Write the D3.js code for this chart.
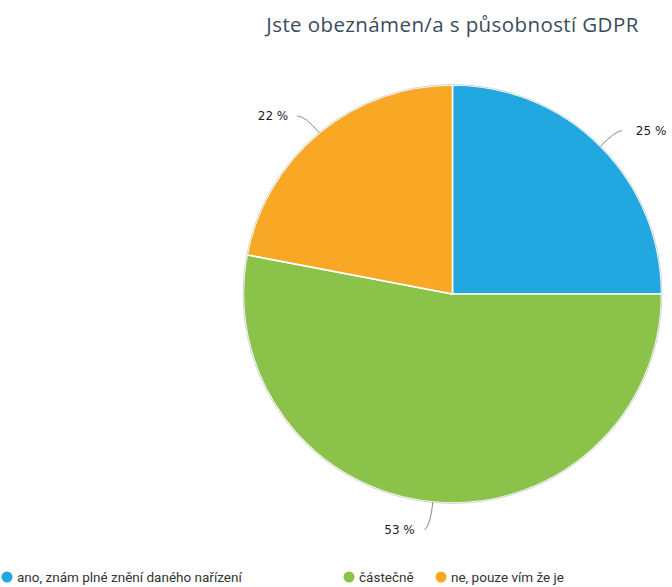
<!DOCTYPE html>
<html>
<head>
<meta charset="utf-8">
<script src="https://cdn.jsdelivr.net/npm/d3@7"></script>
<style>
  html, body { margin: 0; padding: 0; background: #fff; }
  svg { display: block; }
</style>
</head>
<body>
<svg id="chart" width="672" height="587"></svg>
<script>
// Survey answers and their shares (percent)
const categories = ["ano, znám plné znění daného nařízení", "částečně", "ne, pouze vím že je"];
const shares = [25, 53, 22];
const colors = ["#22a8e0", "#8bc34a", "#f9a825"];
const title = "Jste obeznámen/a s působností GDPR";

const svg = d3.select("#chart");
const cx = 452.5, cy = 294, radius = 209;

// Title
svg.append("text")
  .attr("x", cx).attr("y", 32)
  .attr("text-anchor", "middle")
  .attr("font-family", "'Open Sans', sans-serif")
  .attr("font-size", 20.5)
  .attr("letter-spacing", 0.4)
  .attr("fill", "#3b4b5c")
  .text(title);

const data = categories.map((c, i) => ({ name: c, value: shares[i], color: colors[i] }));
const pie = d3.pie().value(d => d.value).sort(null);
const arcs = pie(data);
const arc = d3.arc().innerRadius(0).outerRadius(radius);

const g = svg.append("g").attr("transform", `translate(${cx},${cy})`);

g.selectAll("path.slice")
  .data(arcs)
  .join("path")
  .attr("class", "slice")
  .attr("d", arc)
  .attr("fill", d => d.data.color)
  .attr("stroke", "#ffffff")
  .attr("stroke-width", 1.5);

// Faint outer rim
g.append("circle")
  .attr("r", radius + 0.5)
  .attr("fill", "none")
  .attr("stroke", "#c8c8c8")
  .attr("stroke-width", 0.8);

// Leader lines and value labels
const labelG = g.append("g");
arcs.forEach(d => {
  const mid = (d.startAngle + d.endAngle) / 2;
  const sx = Math.sin(mid), sy = -Math.cos(mid);
  const p0 = [sx * radius, sy * radius];
  const p1 = [sx * (radius + 22), sy * (radius + 22)];
  const right = sx > 0.1, left = sx < -0.1;
  let p2, tx, ty, anchor;
  if (right) {
    p2 = [p1[0] + 6, p1[1]];
    tx = p2[0] + 14; ty = p1[1] + 4; anchor = "start";
  } else if (left) {
    p2 = [p1[0] - 8, p1[1]];
    tx = p2[0] - 9; ty = p1[1] + 4; anchor = "end";
  } else {
    p2 = [p1[0] - 6, p1[1] + 6];
    tx = p2[0] - 10; ty = p2[1] + 4; anchor = "end";
  }
  const path = d3.path();
  path.moveTo(p0[0], p0[1]);
  path.quadraticCurveTo(p1[0], p1[1], p2[0], p2[1]);
  labelG.append("path")
    .attr("d", path.toString())
    .attr("fill", "none")
    .attr("stroke", "#888")
    .attr("stroke-width", 1);
  labelG.append("text")
    .attr("x", tx).attr("y", ty)
    .attr("text-anchor", anchor)
    .attr("font-family", "'DejaVu Sans', sans-serif")
    .attr("font-size", 12)
    .attr("fill", "#222")
    .text(d.data.value + " %");
});

// Legend
const legendX = [7, 349, 441];
const legend = svg.append("g").attr("transform", `translate(0,${577})`);
data.forEach((d, i) => {
  const item = legend.append("g").attr("transform", `translate(${legendX[i]},0)`);
  item.append("circle").attr("cx", 0).attr("cy", 0).attr("r", 5.5).attr("fill", d.color);
  item.append("text")
    .attr("x", 10).attr("y", 4.5)
    .attr("font-family", "'Liberation Sans Narrow', 'Roboto', sans-serif")
    .attr("font-size", 13.5)
    .attr("fill", "#333")
    .text(d.name);
});
</script>
</body>
</html>
